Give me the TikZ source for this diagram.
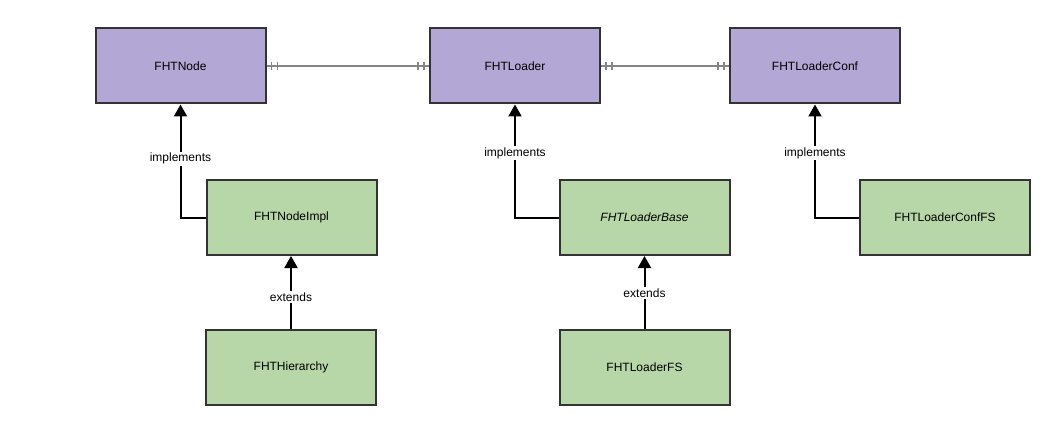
\documentclass[tikz,border=0pt]{standalone}
\usepackage{fontspec}
\setmainfont{Liberation Sans}
\usetikzlibrary{arrows.meta,decorations.markings}

\definecolor{ifacefill}{HTML}{B3A7D5}
\definecolor{classfill}{HTML}{B7D7A8}
\definecolor{boxline}{HTML}{333333}
\definecolor{relline}{HTML}{858585}

\tikzset{
  umlbox/.style={draw=boxline, line width=2pt, minimum width=170pt,
    minimum height=75pt, inner sep=0pt, font=\fontsize{12}{14}\selectfont},
  iface/.style={umlbox, fill=ifacefill},
  cls/.style={umlbox, fill=classfill},
  inherit/.style={draw=black, line width=2pt,
    -{Triangle[length=12pt,width=13pt]}},
  edgelabel/.style={fill=white, inner sep=1.5pt,
    font=\fontsize{12}{14}\selectfont},
  oneone/.style={draw=relline, line width=1.6pt, postaction={decorate},
    decoration={markings,
      mark=at position 5pt with {\draw[relline,line width=1.4pt] (0,-4pt) -- (0,4pt);},
      mark=at position 11pt with {\draw[relline,line width=1.4pt] (0,-4pt) -- (0,4pt);},
      mark=at position -5pt with {\draw[relline,line width=1.4pt] (0,-4pt) -- (0,4pt);},
      mark=at position -11pt with {\draw[relline,line width=1.4pt] (0,-4pt) -- (0,4pt);}}}
}

\begin{document}
\begin{tikzpicture}[x=1pt,y=-1pt]
  \useasboundingbox[fill=white] (0,0) rectangle (1054,425);

  % interfaces
  \node[iface] (node)   at (180.5,66) {FHTNode};
  \node[iface] (loader) at (515,66)   {FHTLoader};
  \node[iface] (conf)   at (815,66)   {FHTLoaderConf};

  % implementations
  \node[cls] (nodeimpl)   at (291.5,217.5) {FHTNodeImpl};
  \node[cls] (loaderbase) at (644.5,217.5) {\itshape FHTLoaderBase};
  \node[cls] (conffs)     at (945,217.5)   {FHTLoaderConfFS};
  \node[cls] (hierarchy)  at (291,367.5)   {FHTHierarchy};
  \node[cls] (loaderfs)   at (644.5,367.5) {FHTLoaderFS};

  % one-to-one associations
  \path[oneone] (node.east) -- (loader.west);
  \path[oneone] (loader.east) -- (conf.west);

  % interface realisations
  \draw[inherit] (nodeimpl.west) -| node[edgelabel,pos=0.76] {implements} (node.south);
  \draw[inherit] (loaderbase.west) -| node[edgelabel,pos=0.785] {implements} (loader.south);
  \draw[inherit] (conffs.west) -| node[edgelabel,pos=0.785] {implements} (conf.south);

  % class inheritance
  \draw[inherit] (hierarchy.north) -- node[edgelabel,pos=0.44] {extends} (hierarchy.north |- nodeimpl.south);
  \draw[inherit] (loaderfs.north) -- node[edgelabel,pos=0.49] {extends} (loaderbase.south);
\end{tikzpicture}
\end{document}
